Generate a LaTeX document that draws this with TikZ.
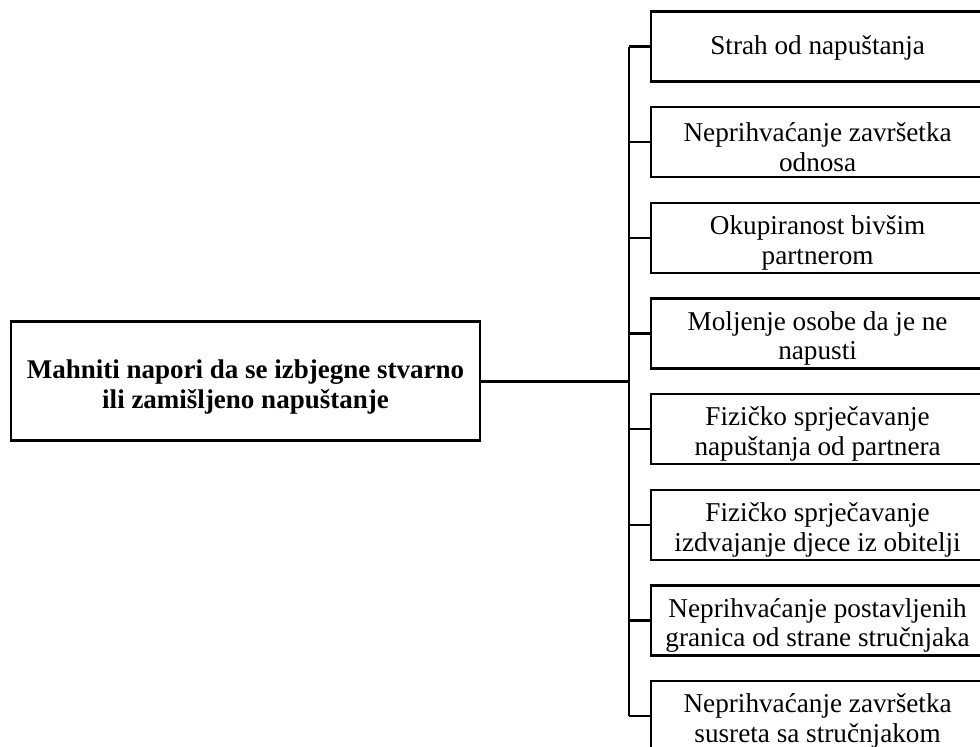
\documentclass[tikz,border=0pt]{standalone}
\usepackage{fontspec}
\setmainfont{Liberation Serif}
\begin{document}
\begin{tikzpicture}[x=1pt,y=-1pt,
  box/.style={draw=black,line width=2.2pt,rectangle,inner sep=0pt},
  leftbox/.style={box,minimum width=469pt,minimum height=119pt},
  lefttext/.style={align=center,inner sep=0pt,font=\bfseries\fontsize{27}{30.5}\selectfont},
  rightbox/.style={box,minimum width=333pt,minimum height=70pt,anchor=west},
  righttext/.style={align=center,inner sep=0pt,font=\fontsize{27.2}{29.5}\selectfont},
  link/.style={line width=2.2pt},
  mainlink/.style={line width=3pt}]
\useasboundingbox (0,0) rectangle (980,747);
\node[leftbox] (L) at (245.5,381) {};
\node[lefttext,yshift=-6pt] (Lt) at (L.center) {Mahniti napori da se izbjegne stvarno\\ili zamišljeno napuštanje};
\node[rightbox] (r1) at (650,46.5) {};
\node[rightbox] (r2) at (650,142.1) {};
\node[rightbox] (r3) at (650,237.8) {};
\node[rightbox] (r4) at (650,333.4) {};
\node[rightbox] (r5) at (650,429.1) {};
\node[rightbox] (r6) at (650,524.7) {};
\node[rightbox] (r7) at (650,620.4) {};
\node[rightbox] (r8) at (650,716) {};
\node[righttext,yshift=-1pt] (t1) at (r1.center) {Strah od napuštanja};
\node[righttext,yshift=-5pt] (t2) at (r2.center) {Neprihvaćanje završetka\\odnosa};
\node[righttext,yshift=-5pt] (t3) at (r3.center) {Okupiranost bivšim\\partnerom};
\node[righttext,yshift=-5pt] (t4) at (r4.center) {Moljenje osobe da je ne\\napusti};
\node[righttext,yshift=-5pt] (t5) at (r5.center) {Fizičko sprječavanje\\napuštanja od partnera};
\node[righttext,yshift=-5pt] (t6) at (r6.center) {Fizičko sprječavanje\\izdvajanje djece iz obitelji};
\node[righttext,yshift=-5pt] (t7) at (r7.center) {Neprihvaćanje postavljenih\\granica od strane stručnjaka};
\node[righttext,yshift=-5pt] (t8) at (r8.center) {Neprihvaćanje završetka\\susreta sa stručnjakom};
\coordinate (bus) at (629,381);
\draw[mainlink] (L.east) -- (bus);
\draw[link] (r1.west -| bus) -- (r8.west -| bus);
\foreach \i in {1,...,8} {\draw[link] (r\i.west) -- (r\i.west -| bus);}
\end{tikzpicture}
\end{document}
